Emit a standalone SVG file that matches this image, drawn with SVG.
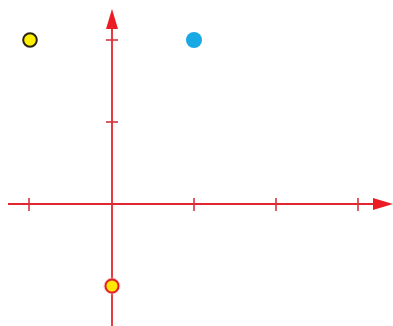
<svg xmlns="http://www.w3.org/2000/svg" width="393" height="326" viewBox="0 0 393 326">
<style>
.ax{stroke:#e3262e;stroke-width:1.8;fill:none}
.tk{stroke:#d4343c;stroke-width:1.6}
.ah{fill:#ec1c24}
</style>
<rect width="393" height="326" fill="#fff"/>
<g id="connectors">
<line class="ax" x1="8" y1="204" x2="376" y2="204"/>
<polygon class="ah" points="373,198 393,204 373,210"/>
<line class="ax" x1="112" y1="326" x2="112" y2="26"/>
<polygon class="ah" points="106,29 112,9 118,29"/>
<line class="tk" x1="29" y1="198" x2="29" y2="211"/>
<line class="tk" x1="194" y1="198" x2="194" y2="211"/>
<line class="tk" x1="276" y1="198" x2="276" y2="211"/>
<line class="tk" x1="358" y1="198" x2="358" y2="211"/>
<line class="tk" x1="106" y1="40" x2="118" y2="40"/>
<line class="tk" x1="106" y1="122" x2="118" y2="122"/>
</g>
<g id="p1"><circle cx="30" cy="40" r="6.8" fill="#fff000" stroke="#2a2410" stroke-width="2"/></g>
<g id="p2"><circle cx="194" cy="40" r="8" fill="#18a8e4"/></g>
<g id="p3"><circle cx="112" cy="286" r="8.5" fill="#f4b0b0" opacity="0.6"/><circle cx="112" cy="286" r="6.5" fill="#ffe800" stroke="#e0202a" stroke-width="2"/></g>
</svg>
